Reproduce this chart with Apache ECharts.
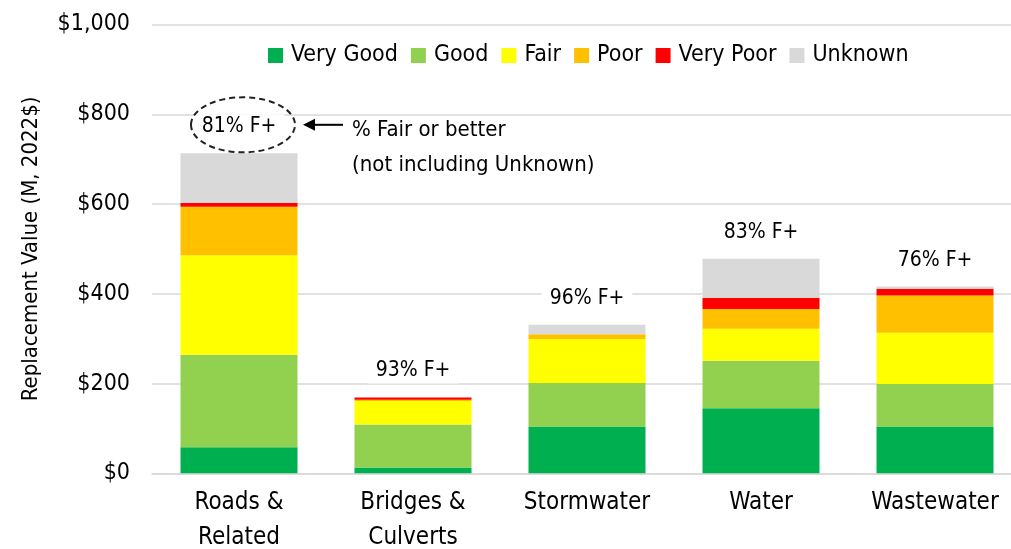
<!DOCTYPE html>
<html>
<head>
<meta charset="utf-8">
<script src="https://cdn.jsdelivr.net/npm/echarts@6/dist/echarts.min.js"></script>
<style>
  html, body { margin: 0; padding: 0; background: #fff; }
  #chart { width: 1011px; height: 549px; }
</style>
</head>
<body>
<div id="chart"></div>
<script>
const categories = ['Roads &\nRelated', 'Bridges &\nCulverts', 'Stormwater', 'Water', 'Wastewater'];
const veryGood = [58, 13, 104, 145, 104];
const good     = [206, 96, 97, 106, 95];
const fair     = [222, 52, 98, 71, 114];
const poor     = [108, 3, 11, 44, 83];
const veryPoor = [9, 5, 0, 25, 15];
const unknown  = [110, 0, 21, 87, 5];
const pctLabels = ['81% F+', '93% F+', '96% F+', '83% F+', '76% F+'];
const yTicks = [0, 200, 400, 600, 800, 1000];

const FONT = '"DejaVu Sans Condensed", "DejaVu Sans", sans-serif';
const TXT = '#000';
const seriesDefs = [
  ['Very Good', veryGood, '#00B050'],
  ['Good', good, '#92D050'],
  ['Fair', fair, '#FFFF00'],
  ['Poor', poor, '#FFC000'],
  ['Very Poor', veryPoor, '#FF0000'],
  ['Unknown', unknown, '#D9D9D9']
];
const totals = categories.map((c, i) => seriesDefs.reduce((s, d) => s + d[1][i], 0));

const chart = echarts.init(document.getElementById('chart'), null, { renderer: 'canvas' });

const series = seriesDefs.map(d => ({
  name: d[0], type: 'bar', stack: 'total', data: d[1],
  barWidth: 117,
  itemStyle: { color: d[2] },
  emphasis: { disabled: true }
}));
series.push({
  name: 'pct', type: 'scatter', data: totals, symbolSize: 0, silent: true, z: 10,
  itemStyle: { opacity: 1 },
  label: {
    show: true, position: 'top', distance: 14,
    formatter: p => pctLabels[p.dataIndex],
    fontFamily: FONT, fontSize: 21, color: TXT,
    backgroundColor: '#fff', padding: [2, 8, 2, 8]
  }
});

chart.setOption({
  animation: false,
  backgroundColor: '#fff',
  grid: { left: 152, width: 870, top: 24.5, bottom: 75.7, containLabel: false, outerBoundsMode: 'none' },
  legend: {
    data: seriesDefs.map(d => d[0]),
    top: 39, left: 263,
    itemWidth: 15, itemHeight: 15, itemGap: 13,
    icon: 'rect',
    textStyle: { fontFamily: FONT, fontSize: 23, color: TXT, padding: [0, 0, 0, 3] },
    selectedMode: false
  },
  xAxis: {
    type: 'category', data: categories,
    axisLine: { lineStyle: { color: '#D9D9D9', width: 1.5 } },
    axisTick: { show: false },
    axisLabel: { fontFamily: FONT, fontSize: 24, color: TXT, lineHeight: 35, margin: 12, interval: 0 }
  },
  yAxis: {
    type: 'value', min: 0, max: 1000, interval: 200,
    name: 'Replacement Value (M, 2022$)', nameLocation: 'middle', nameGap: 110,
    nameTextStyle: { fontFamily: FONT, fontSize: 22, color: TXT },
    axisLine: { show: false }, axisTick: { show: false },
    splitLine: { lineStyle: { color: '#D9D9D9', width: 1.5 } },
    axisLabel: {
      fontFamily: FONT, fontSize: 23, color: TXT, margin: 22,
      formatter: v => yTicks.includes(v) ? '$' + v.toLocaleString('en-US') : ''
    }
  },
  series: series
});

// Annotation around the first category's percentage label
const p = chart.convertToPixel({ gridIndex: 0 }, [0, totals[0]]);
const cx = p[0] + 4, cy = p[1] - 28.5;
chart.setOption({
  graphic: [
    { type: 'ellipse', shape: { cx: cx, cy: cy, rx: 52, ry: 27.5 }, z: 20,
      style: { fill: 'none', stroke: '#222', lineWidth: 2, lineDash: [6, 4] } },
    { type: 'line', shape: { x1: p[0] + 104, y1: cy, x2: p[0] + 74, y2: cy }, z: 20,
      style: { stroke: '#000', lineWidth: 2 } },
    { type: 'polygon', shape: { points: [[p[0] + 64, cy], [p[0] + 76, cy - 6], [p[0] + 76, cy + 6]] }, z: 20,
      style: { fill: '#000' } },
    { type: 'text', x: p[0] + 113, y: cy + 5, z: 20,
      style: { text: '% Fair or better', font: '22px ' + FONT, fill: TXT, textVerticalAlign: 'middle' } },
    { type: 'text', x: p[0] + 113, y: cy + 40, z: 20,
      style: { text: '(not including Unknown)', font: '22px ' + FONT, fill: TXT, textVerticalAlign: 'middle' } }
  ]
});
</script>
</body>
</html>
